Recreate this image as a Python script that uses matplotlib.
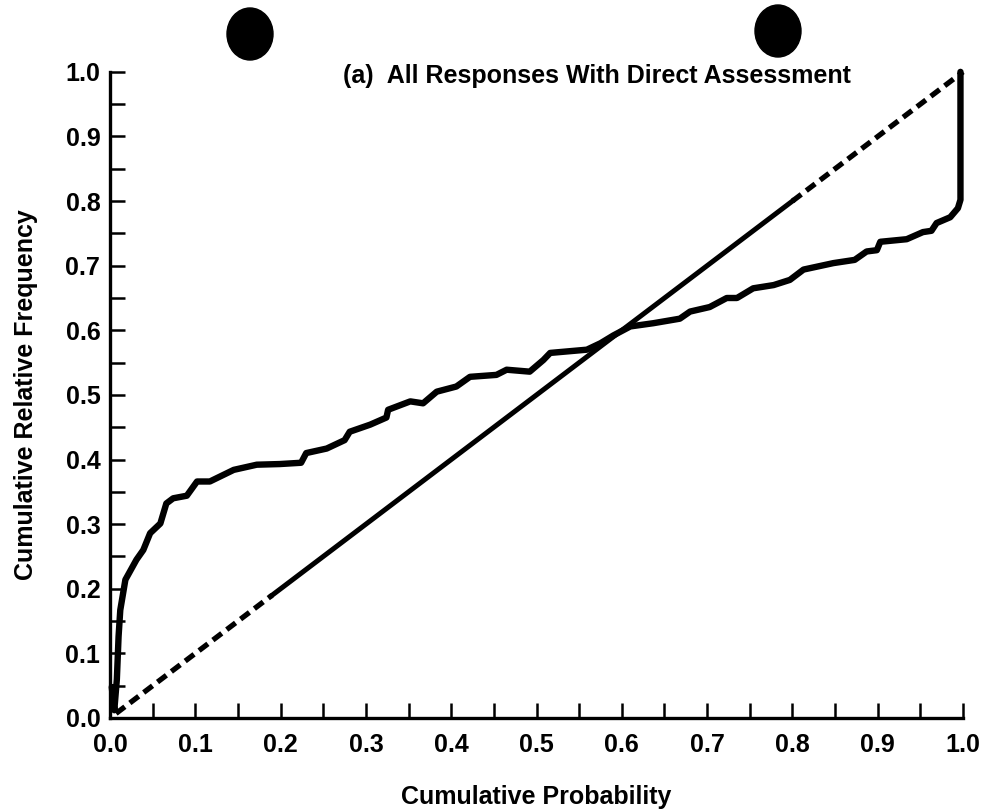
import numpy as np
import matplotlib
matplotlib.use("Agg")
import matplotlib.pyplot as plt
from matplotlib.patches import Ellipse
from matplotlib.ticker import MultipleLocator

plt.rcParams['font.family'] = ['Liberation Sans', 'DejaVu Sans']
plt.rcParams['lines.scale_dashes'] = False

cum_prob = [0.002, 0.005, 0.008, 0.010, 0.012, 0.018, 0.031, 0.039, 0.047, 0.059,
            0.066, 0.074, 0.090, 0.102, 0.117, 0.145, 0.172, 0.199, 0.224, 0.230,
            0.254, 0.275, 0.281, 0.305, 0.324, 0.326, 0.352, 0.367, 0.383, 0.406,
            0.422, 0.453, 0.465, 0.492, 0.508, 0.516, 0.559, 0.575, 0.590, 0.610,
            0.637, 0.668, 0.680, 0.703, 0.723, 0.735, 0.754, 0.778, 0.797, 0.813,
            0.848, 0.873, 0.887, 0.899, 0.903, 0.934, 0.953, 0.963, 0.969, 0.985,
            0.994, 0.997, 0.997]
cum_freq = [0.048, 0.012, 0.060, 0.126, 0.167, 0.214, 0.245, 0.260, 0.286, 0.301,
            0.332, 0.340, 0.344, 0.366, 0.366, 0.384, 0.392, 0.393, 0.395, 0.410,
            0.417, 0.430, 0.443, 0.454, 0.465, 0.477, 0.490, 0.487, 0.505, 0.513,
            0.528, 0.531, 0.539, 0.536, 0.554, 0.565, 0.570, 0.580, 0.592, 0.606,
            0.611, 0.618, 0.629, 0.636, 0.650, 0.650, 0.665, 0.670, 0.678, 0.694,
            0.704, 0.709, 0.722, 0.724, 0.737, 0.741, 0.752, 0.754, 0.766, 0.775,
            0.789, 0.802, 1.0]

# perfect calibration diagonal: dashed at both ends, solid in the middle
diag_lo = [0.007, 0.19]
diag_mid = [0.19, 0.80]
diag_hi = [0.80, 1.0]

ticks = np.arange(0, 1.01, 0.1)
tick_labels = ["0.0", "0.1", "0.2", "0.3", "0.4", "0.5", "0.6", "0.7", "0.8", "0.9", "1.0"]

fig = plt.figure(figsize=(9.86, 8.11), dpi=100)
ax = fig.add_axes([0.1116, 0.1147, 0.8651, 0.7967])

ax.plot(diag_lo, diag_lo, color='black', lw=3.8, dashes=(8, 4.5))
ax.plot(diag_mid, diag_mid, color='black', lw=3.6)
ax.plot(diag_hi, diag_hi, color='black', lw=3.8, dashes=(8, 4.5), clip_on=False)
ax.plot(cum_prob, cum_freq, color='black', lw=4.6, solid_joinstyle='round',
        solid_capstyle='round', clip_on=False)

ax.set_xlim(0, 1)
ax.set_ylim(0, 1)
for s in ['top', 'right']:
    ax.spines[s].set_visible(False)
for s in ['left', 'bottom']:
    ax.spines[s].set_linewidth(2.4)

fs = 18
ax.set_xticks(ticks)
ax.set_xticklabels(tick_labels)
ax.set_yticks(ticks)
ax.set_yticklabels(tick_labels)
ax.xaxis.set_minor_locator(MultipleLocator(0.05))
ax.yaxis.set_minor_locator(MultipleLocator(0.05))
ax.tick_params(which='both', direction='in', length=11, width=1.8)
ax.tick_params(axis='x', pad=11, labelsize=fs)
ax.tick_params(axis='y', pad=7, labelsize=fs)
for lab in ax.get_xticklabels() + ax.get_yticklabels():
    lab.set_fontweight('bold')

ax.set_xlabel("Cumulative Probability", fontsize=fs, fontweight='bold', labelpad=20)
ax.set_ylabel("Cumulative Relative Frequency", fontsize=fs, fontweight='bold', labelpad=20)

ax.text(0.273, 0.993, "(a)  All Responses With Direct Assessment", transform=ax.transAxes,
        fontsize=fs, fontweight='bold', ha='left', va='center')

# hole punches from the scanned page
fig.patches.append(Ellipse((250 / 986, 1 - 34 / 811), 46 / 986, 52 / 811,
                           transform=fig.transFigure, color='black'))
fig.patches.append(Ellipse((778 / 986, 1 - 31 / 811), 46 / 986, 52 / 811,
                           transform=fig.transFigure, color='black'))

fig.savefig("out.png", dpi=100)
